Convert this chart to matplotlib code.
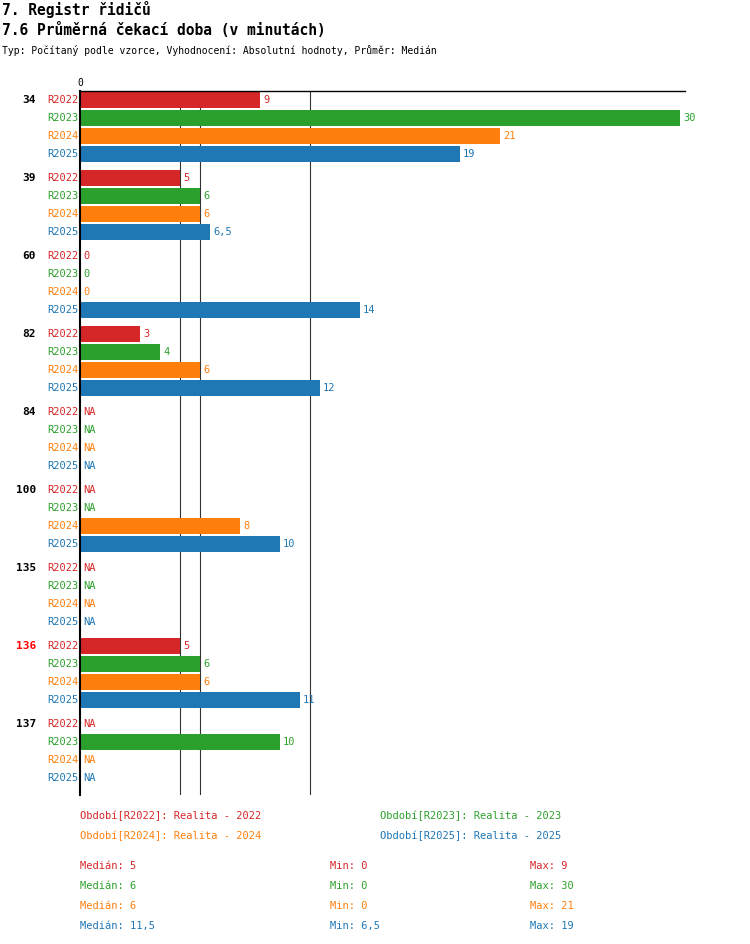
import matplotlib
matplotlib.use("Agg")
import matplotlib.pyplot as plt
import numpy as np

groups = ["34", "39", "60", "82", "84", "100", "135", "136", "137"]
series = ["R2022", "R2023", "R2024", "R2025"]
colors = ["#d62728", "#2ca02c", "#ff7f0e", "#1f77b4"]
# None = NA
values = [
    [9, 30, 21, 19],
    [5, 6, 6, 6.5],
    [0, 0, 0, 14],
    [3, 4, 6, 12],
    [None, None, None, None],
    [None, None, 8, 10],
    [None, None, None, None],
    [5, 6, 6, 11],
    [None, 10, None, None],
]
medians = [5, 6, 6, 11.5]
mins = [0, 0, 0, 6.5]
maxs = [9, 30, 21, 19]
median_lines = [5, 6, 11.5]

def fmt(v):
    s = ("%g" % v)
    return s.replace(".", ",")

plt.rcParams['font.family'] = ['DejaVu Sans Mono']
fig = plt.figure(figsize=(7.5, 9.44), dpi=100)
W, H = 750, 944
x0, x1 = 80, 685
y0, y1 = 91, 795
ax = fig.add_axes([x0 / W, 1 - y1 / H, (x1 - x0) / W, (y1 - y0) / H])
ax.set_xlim(0, (x1 - x0) / 20)
ax.set_ylim(y1, y0)
for s in ["right", "bottom"]:
    ax.spines[s].set_visible(False)
ax.spines["left"].set_linewidth(1.5)
ax.spines["top"].set_linewidth(1)
ax.set_yticks([])
ax.set_xticks([0])
ax.xaxis.tick_top()
ax.tick_params(axis="x", length=0, labelsize=7, pad=2)
for m in median_lines:
    ax.axvline(m, color="#333333", lw=0.8, zorder=0)

fs = 7.5
for g, name in enumerate(groups):
    gy = 100 + g * 78
    c = "red" if name == "136" else "black"
    ax.text(-2.2, gy, name, ha="right", va="center", fontsize=8, fontweight="bold", color=c, clip_on=False)
    for i, sname in enumerate(series):
        y = gy + i * 18
        ax.text(-0.1, y, sname, ha="right", va="center", fontsize=fs, color=colors[i], clip_on=False)
        v = values[g][i]
        if v is None:
            ax.text(0.15, y, "NA", ha="left", va="center", fontsize=fs, color=colors[i])
        else:
            ax.barh(y, v, height=16, color=colors[i], left=0)
            ax.text(v + 0.15, y, fmt(v), ha="left", va="center", fontsize=fs, color=colors[i])

fig.text(2 / W, 1 - 9 / H, "7. Registr řidičů", fontsize=10.5, fontweight="bold", va="center")
fig.text(2 / W, 1 - 30 / H, "7.6 Průměrná čekací doba (v minutách)", fontsize=10.5, fontweight="bold", va="center")
fig.text(2 / W, 1 - 50 / H, "Typ: Počítaný podle vzorce, Vyhodnocení: Absolutní hodnoty, Průměr: Medián", fontsize=7, va="center")

leg = [("Období[R2022]: Realita - 2022", 80, 816), ("Období[R2023]: Realita - 2023", 380, 816),
       ("Období[R2024]: Realita - 2024", 80, 836), ("Období[R2025]: Realita - 2025", 380, 836)]
for i, (t, x, y) in enumerate(leg):
    fig.text(x / W, 1 - y / H, t, fontsize=fs, color=colors[i], va="center")
for i in range(4):
    y = 866 + i * 20
    fig.text(80 / W, 1 - y / H, "Medián: " + fmt(medians[i]), fontsize=fs, color=colors[i], va="center")
    fig.text(330 / W, 1 - y / H, "Min: " + fmt(mins[i]), fontsize=fs, color=colors[i], va="center")
    fig.text(530 / W, 1 - y / H, "Max: " + fmt(maxs[i]), fontsize=fs, color=colors[i], va="center")

fig.savefig("out.png", dpi=100)
